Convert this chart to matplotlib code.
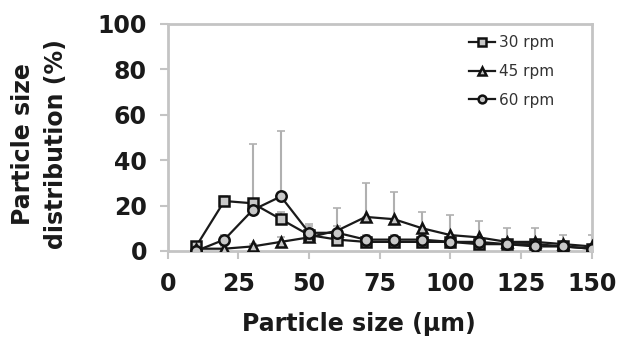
import numpy as np
import matplotlib
matplotlib.use("Agg")
import matplotlib.pyplot as plt

plt.rcParams.update({
    'font.family': ['DejaVu Sans'],
    'font.weight': 'bold',
})

# particle size classes (µm)
sizes = [10, 20, 30, 40, 50, 60, 70, 80, 90, 100, 110, 120, 130, 140, 150]

# distribution (%) per rotation speed
rpm30 = [2, 22, 21, 14, 7, 5, 4, 4, 4, 4, 3, 3, 3, 2, 1]
rpm45 = [1, 1, 2, 4, 6, 9, 15, 14, 10, 7, 6, 4, 4, 3, 2]
rpm60 = [0, 5, 18, 24, 8, 8, 5, 5, 5, 4, 4, 3, 2, 2, 1]

# upper error bars
err30 = [1, 2, 26, 3, 4, 3, 2, 2, 2, 2, 2, 2, 2, 1, 1]
err45 = [1, 1, 1, 2, 3, 10, 15, 12, 7, 9, 7, 6, 6, 4, 5]
err60 = [1, 2, 4, 29, 4, 3, 2, 2, 2, 2, 2, 2, 2, 1, 1]

series = [
    ('30 rpm', rpm30, err30, 's'),
    ('45 rpm', rpm45, err45, '^'),
    ('60 rpm', rpm60, err60, 'o'),
]

fig = plt.figure(figsize=(6.17, 3.41), dpi=100)
ax = fig.add_axes([0.272, 0.264, 0.687, 0.666])

for label, vals, err, mk in series:
    v = np.array(vals)
    e = np.array(err)
    ax.errorbar(sizes, v, yerr=[np.zeros_like(e), e], fmt='none',
                ecolor='#b0b0b0', elinewidth=1.5, capsize=3, capthick=1.2, zorder=1)
    ax.plot(sizes, v, marker=mk, color='#1a1a1a', lw=1.6, ms=7.5,
            mfc='#c8c8c8', mec='#111111', mew=1.8, label=label, zorder=3)

ax.set_xlim(0, 150)
ax.set_ylim(0, 100)
ax.set_xticks(np.arange(0, 151, 25))
ax.set_yticks(np.arange(0, 101, 20))

for s in ax.spines.values():
    s.set_color('#c4c4c4')
    s.set_linewidth(2)

ax.tick_params(axis='both', colors='#c4c4c4', width=1.5, length=6,
               labelcolor='#1a1a1a', labelsize=17, pad=9)

ax.set_xlabel('Particle size (µm)', fontsize=17, fontweight='bold', color='#1a1a1a')
ax.xaxis.set_label_coords(0.45, -0.27)
ax.set_ylabel('Particle size\ndistribution (%)', fontsize=17, fontweight='bold',
              color='#1a1a1a', linespacing=1.5)
ax.yaxis.set_label_coords(-0.235, 0.47)

leg = ax.legend(loc='upper left', bbox_to_anchor=(0.69, 0.99), frameon=False,
                handlelength=1.7, handletextpad=0.25, labelspacing=0.9,
                markerscale=0.75, borderaxespad=0.2,
                prop={'size': 11, 'weight': 'normal'})
for t in leg.get_texts():
    t.set_color('#333333')

fig.savefig('out.png', dpi=100)
